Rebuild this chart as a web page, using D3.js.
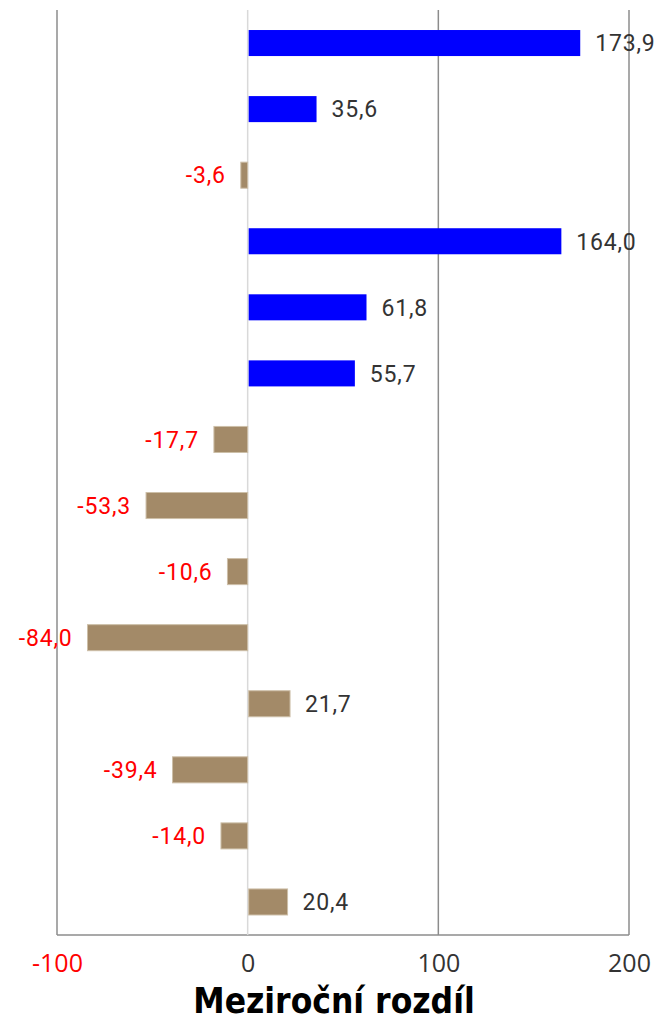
<!DOCTYPE html>
<meta charset="utf-8">
<style>
body { margin: 0; background: #fff; }
.lbl { font-family: Roboto, sans-serif; font-size: 23px; letter-spacing: 0.8px; }
.tick text { font-family: "Open Sans", sans-serif; font-size: 25px; fill: #333; }
.title { font-family: "DejaVu Sans Condensed", sans-serif; font-size: 35px; font-weight: bold; fill: #000; }
</style>
<body>
<script src="https://d3js.org/d3.v7.min.js"></script>
<script>

// data
var categories = ["1", "2", "3", "4", "5", "6", "7", "8", "9", "10", "11", "12", "13", "14"];
var values = [173.9, 35.6, -3.6, 164.0, 61.8, 55.7, -17.7, -53.3, -10.6, -84.0, 21.7, -39.4, -14.0, 20.4];
var groups = ["A", "A", "B", "A", "A", "A", "B", "B", "B", "B", "B", "B", "B", "B"];
var ticks = [-100, 0, 100, 200];

var W = 655, H = 1020;
var margin = {top: 10, right: 26, bottom: 85, left: 57};
var width = W - margin.left - margin.right,
    height = H - margin.top - margin.bottom;

var svg = d3.select("body").append("svg")
    .attr("width", W)
    .attr("height", H)
  .append("g")
    .attr("transform", "translate(" + margin.left + "," + margin.top + ")");

var x = d3.scaleLinear().domain([-100, 200]).range([0, width]);
var y = d3.scaleBand().domain(categories).range([0, height]).paddingInner(0.606).paddingOuter(0.303);
var color = d3.scaleOrdinal().domain(["A", "B"]).range(["#0000ff", "#a38a68"]);

// gridlines
svg.selectAll(".grid")
    .data(ticks.filter(function(t) { return t !== 0; }))
  .enter().append("line")
    .attr("x1", function(d) { return x(d); })
    .attr("x2", function(d) { return x(d); })
    .attr("y1", 0)
    .attr("y2", height)
    .attr("stroke", "#8c8c8c")
    .attr("stroke-width", 1.5);

// bottom axis line
svg.append("line")
    .attr("x1", 0).attr("x2", width)
    .attr("y1", height).attr("y2", height)
    .attr("stroke", "#8c8c8c")
    .attr("stroke-width", 1.5);

// zero line
svg.append("line")
    .attr("x1", x(0)).attr("x2", x(0))
    .attr("y1", 0).attr("y2", height)
    .attr("stroke", "#d9d9d9")
    .attr("stroke-width", 1.5);

var data = categories.map(function(c, i) { return {cat: c, v: values[i], g: groups[i]}; });

svg.selectAll(".bar")
    .data(data)
  .enter().append("rect")
    .attr("x", function(d) { return d.v < 0 ? x(d.v) : x(0) + 1; })
    .attr("width", function(d) { return Math.abs(x(d.v) - x(0)); })
    .attr("y", function(d) { return y(d.cat); })
    .attr("height", y.bandwidth())
    .attr("fill", function(d) { return color(d.g); })
    .attr("stroke", function(d) { return d.g === "B" ? "#cdbfa8" : "none"; })
    .attr("stroke-width", 1);

svg.selectAll(".lbl")
    .data(data)
  .enter().append("text")
    .attr("class", "lbl")
    .attr("x", function(d) { return d.v < 0 ? x(d.v) - 15 : x(d.v) + 16; })
    .attr("y", function(d) { return y(d.cat) + y.bandwidth() / 2; })
    .attr("dy", "0.36em")
    .attr("text-anchor", function(d) { return d.v < 0 ? "end" : "start"; })
    .attr("fill", function(d) { return d.v < 0 ? "#ff0000" : "#333"; })
    .text(function(d) { return d3.format(".1f")(d.v).replace(".", ",").replace("−", "-"); });

// x axis
var xAxis = svg.append("g")
    .attr("transform", "translate(0," + height + ")")
    .call(d3.axisBottom(x).tickValues(ticks).tickSize(0).tickPadding(19).tickFormat(function(d) { return d; }));
xAxis.select(".domain").remove();
xAxis.selectAll(".tick text")
    .style("fill", function(d) { return d < 0 ? "#ff0000" : "#333"; });

svg.append("text")
    .attr("class", "title")
    .attr("x", width / 2 - 9)
    .attr("y", height + 78)
    .attr("text-anchor", "middle")
    .text("Meziroční rozdíl");

</script>
</body>
